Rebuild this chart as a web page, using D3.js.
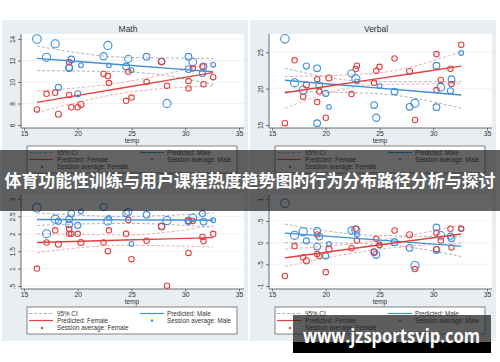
<!DOCTYPE html>
<html>
<head>
<meta charset="utf-8">
<script src="https://cdn.jsdelivr.net/npm/d3@7"></script>
<style>
html, body { margin: 0; padding: 0; background: #fff; }
svg { display: block; font-family: "Liberation Sans", Arial, sans-serif; }
</style>
</head>
<body>
<svg id="chart" width="500" height="362"></svg>
<script>
// session temperatures (shared by every panel)
const temps = [16.2, 17.1, 17.9, 18.2, 19.2, 19.2, 19.4, 20.0, 20.3, 22.4, 22.8, 22.9, 24.5, 24.7, 25.0, 26.4, 27.8, 28.3, 30.3, 30.3, 30.7, 31.6, 31.7, 32.6]
// session sizes, used for marker weight
const maleN = [10, 9, 9, 5, 6, 6, 6, 5, 3, 7, 9, 3, 6, 7, 3, 6, 6, 9, 6, 6, 8, 5, 6, 3]
const femaleN = [4, 4, 4, 5, 4, 4, 4, 4, 5, 4, 4, 4, 4, 4, 4, 4, 5, 4, 4, 4, 4, 4, 4, 4]

const mathMale = [14.0, 12.3, 13.55, 9.5, 11.3, 11.35, 12.1, 8.9, 11.55, 12.4, 13.4, 11.55, 11.45, 12.15, 11.1, 12.35, 11.9, 8.0, 11.2, 12.35, 11.85, 10.8, 11.45, 11.6]
const mathFemale = [7.45, 8.9, 9.0, 7.0, 11.85, 8.8, 7.65, 7.65, 7.9, 10.75, 10.55, 9.9, 8.25, 10.95, 8.55, 10.0, 11.9, 9.65, 9.4, 10.1, 11.25, 11.45, 9.8, 10.45]
const verbalMale = [26.85, 20.8, 19.8, 23.1, 22.8, 15.25, 20.45, 19.35, 17.5, 22.1, 21.35, 21.0, 17.75, 16.0, 20.35, 19.6, 17.5, 18.0, 17.45, 23.15, 20.2, 19.7, 21.3, 24.9]
const verbalFemale = [15.25, 23.9, 18.9, 20.5, 21.3, 18.15, 19.6, 16.0, 21.45, 19.25, 22.7, 23.15, 20.8, 22.45, 23.0, 24.15, 22.35, 15.7, 24.75, 19.8, 21.2, 22.75, 20.65, 26.05]
const thirdMale = [2.75, 2.0, 2.42, 2.36, 2.42, 2.27, 2.58, 2.24, 2.64, 2.77, 2.37, 2.46, 2.59, 2.63, 1.71, 2.55, 2.21, 2.38, 2.37, 2.38, 2.46, 2.58, 2.35, 2.39]
const thirdFemale = [1.0, 1.75, 2.1, 1.7, 2.14, 2.0, 2.0, 2.0, 1.75, 1.75, 1.5, 2.1, 2.0, 2.4, 1.27, 1.8, 2.21, 0.51, 1.45, 2.37, 2.37, 1.91, 1.79, 2.0]
const fourthMale = [0.91, 0.17, 0.25, 0.04, 0.27, -0.09, 0.14, -0.31, -0.03, 0.28, 0.29, 0.19, -0.22, -0.28, -0.07, 0.01, -0.12, -0.53, -0.17, 0.35, 0.17, 0.15, 0.1, 0.32]
const fourthFemale = [-0.77, -0.08, -0.34, -0.42, 0.19, -0.26, -0.31, -0.68, -0.15, -0.13, 0.32, 0.05, -0.21, 0.09, -0.05, 0.28, 0.18, -0.61, 0.23, -0.15, 0.05, 0.32, -0.11, 0.32]

// predicted lines and 95% CI, read at these temps
const fitTemps = [16.2, 24.4, 32.6]
const mathFitMale = [12.2, 11.58, 10.96]
const mathCiMale = [[11.05, 10.95, 9.78], [13.35, 12.3, 12.2]]
const mathFitFemale = [8.11, 9.49, 10.87]
const mathCiFemale = [[7.15, 9.0, 9.63], [9.16, 10.0, 11.83]]
const verbalFitMale = [21.15, 20.14, 19.13]
const verbalCiMale = [[19.6, 19.35, 17.3], [22.8, 20.95, 20.96]]
const verbalFitFemale = [19.44, 21.27, 23.1]
const verbalCiFemale = [[17.3, 20.5, 20.7], [21.65, 22.1, 25.08]]
const thirdFitMale = [2.41, 2.4, 2.39]
const thirdCiMale = [[2.24, 2.3, 2.19], [2.6, 2.5, 2.6]]
const thirdFitFemale = [1.75, 1.82, 1.89]
const thirdCiFemale = [[1.46, 1.67, 1.62], [2.0, 1.97, 2.24]]
const fourthFitMale = [0.22, 0.07, -0.08]
const fourthCiMale = [[0.0, -0.03, -0.32], [0.43, 0.17, 0.14]]
const fourthFitFemale = [-0.35, -0.07, 0.2]
const fourthCiFemale = [[-0.55, -0.17, -0.01], [-0.15, 0.03, 0.41]]

const xTicks = [15, 20, 25, 30, 35]
const mathTicks = [6, 8, 10, 12, 14]
const verbalTicks = [15, 20, 25]
const thirdTicks = [0.5, 1, 1.5, 2, 2.5, 3]
const fourthTicks = [-1, -0.5, 0, 0.5, 1]

const legendLabels = ["95% CI", "Predicted: Male", "Predicted: Female", "Session average: Male", "Session average: Female"]
const bannerText = "体育功能性训练与用户课程热度趋势图的行为分布路径分析与探讨"
const watermarkText = "www.jzsportsvip.com"

const blue = "#3f8fdc"
const red = "#e3413f"

const panels = [
	{ title: "Math", x0: 2, y0: 20, male: mathMale, female: mathFemale, fitM: mathFitMale, fitF: mathFitFemale, ciM: mathCiMale, ciF: mathCiFemale, ticks: mathTicks, domain: [6, 14], top: 19 },
	{ title: "Verbal", x0: 250, y0: 20, male: verbalMale, female: verbalFemale, fitM: verbalFitMale, fitF: verbalFitFemale, ciM: verbalCiMale, ciF: verbalCiFemale, ticks: verbalTicks, domain: [15, 25], top: 32.3 },
	{ title: "", x0: 2, y0: 181, male: thirdMale, female: thirdFemale, fitM: thirdFitMale, fitF: thirdFitFemale, ciM: thirdCiMale, ciF: thirdCiFemale, ticks: thirdTicks, domain: [0.5, 3], top: 18 },
	{ title: "", x0: 250, y0: 181, male: fourthMale, female: fourthFemale, fitM: fourthFitMale, fitF: fourthFitFemale, ciM: fourthCiMale, ciF: fourthCiFemale, ticks: fourthTicks, domain: [-1, 1], top: 18.3 }
]

const svg = d3.select("#chart")
const rScale = d3.scaleSqrt().domain([0, 10]).range([0, 4.3])
const fmt = d => String(d).replace(/^0\./, ".").replace(/^-0\./, "-.")

function drawPanel(p) {
	const g = svg.append("g").attr("transform", `translate(${p.x0},${p.y0})`)

	g.append("rect").attr("width", 246).attr("height", 160).attr("fill", "#e8eef2")
	g.append("rect").attr("x", 19).attr("y", 14).attr("width", 223).attr("height", 94).attr("fill", "#fff")

	const x = d3.scaleLinear().domain([15, 35]).range([22, 237])
	const y = d3.scaleLinear().domain(p.domain).range([105, p.top])

	// gridlines
	g.selectAll(".grid")
		.data(p.ticks)
		.enter().append("line")
		.attr("x1", 19).attr("x2", 242)
		.attr("y1", d => y(d)).attr("y2", d => y(d))
		.attr("stroke", "#eceff1").attr("stroke-width", 0.8)

	// y axis
	const yAxis = g.append("g").attr("transform", "translate(19,0)")
		.call(d3.axisLeft(y).tickValues(p.ticks).tickSize(3).tickFormat(fmt))
	yAxis.select(".domain").remove()
	yAxis.selectAll("line").attr("stroke", "#444").attr("stroke-width", 0.7)
	yAxis.selectAll("text")
		.attr("x", 0).attr("dy", 0)
		.attr("transform", "translate(-6,0) rotate(-90)")
		.attr("text-anchor", "middle")
		.attr("font-size", 6.5).attr("fill", "#333")
		.attr("font-family", "Liberation Sans, Arial, sans-serif")

	// x axis
	const xAxis = g.append("g").attr("transform", "translate(0,108)")
		.call(d3.axisBottom(x).tickValues(xTicks).tickSize(2.5).tickPadding(1))
	xAxis.select(".domain").remove()
	xAxis.selectAll("line").attr("stroke", "#444").attr("stroke-width", 0.7)
	xAxis.selectAll("text").attr("font-size", 6.8).attr("fill", "#333")
		.attr("font-family", "Liberation Sans, Arial, sans-serif")

	g.append("line").attr("x1", 19).attr("x2", 19).attr("y1", 14).attr("y2", 108)
		.attr("stroke", "#444").attr("stroke-width", 0.8)
	g.append("line").attr("x1", 19).attr("x2", 242).attr("y1", 108).attr("y2", 108)
		.attr("stroke", "#444").attr("stroke-width", 0.8)

	g.append("text").attr("x", 130).attr("y", 122.5).attr("text-anchor", "middle")
		.attr("font-size", 6.5).attr("fill", "#333").text("temp")
	if (p.title) {
		g.append("text").attr("x", 126).attr("y", 12).attr("text-anchor", "middle")
			.attr("font-size", 8.5).attr("fill", "#333").text(p.title)
	}

	// confidence bands
	const curve = d3.line().x((d, i) => x(fitTemps[i])).y(d => y(d)).curve(d3.curveMonotoneX)
	p.ciM.forEach(band => {
		g.append("path").attr("d", curve(band)).attr("fill", "none")
			.attr("stroke", "#a9a9a9").attr("stroke-width", 0.9).attr("stroke-dasharray", "3,2")
	})
	p.ciF.forEach(band => {
		g.append("path").attr("d", curve(band)).attr("fill", "none")
			.attr("stroke", "#eca3a3").attr("stroke-width", 0.9).attr("stroke-dasharray", "3,2")
	})

	// session averages
	g.selectAll(".male")
		.data(p.male)
		.enter().append("circle")
		.attr("cx", (d, i) => x(temps[i]))
		.attr("cy", d => y(d))
		.attr("r", (d, i) => rScale(maleN[i]))
		.attr("fill", "none").attr("stroke", blue).attr("stroke-width", 1.1)

	g.selectAll(".female")
		.data(p.female)
		.enter().append("circle")
		.attr("cx", (d, i) => x(temps[i]))
		.attr("cy", d => y(d))
		.attr("r", (d, i) => rScale(femaleN[i]))
		.attr("fill", "none").attr("stroke", red).attr("stroke-width", 1.1)

	// predicted lines
	g.append("path").attr("d", curve(p.fitM)).attr("fill", "none")
		.attr("stroke", blue).attr("stroke-width", 1.4)
	g.append("path").attr("d", curve(p.fitF)).attr("fill", "none")
		.attr("stroke", red).attr("stroke-width", 1.4)

	// legend
	const lg = g.append("g").attr("transform", "translate(25,126)")
	lg.append("rect").attr("width", 210).attr("height", 27)
		.attr("fill", "#fff").attr("stroke", "#666").attr("stroke-width", 0.8)
	const rows = [6.5, 13.5, 21]
	lg.append("line").attr("x1", 2).attr("x2", 26).attr("y1", rows[0]).attr("y2", rows[0])
		.attr("stroke", "#a9a9a9").attr("stroke-dasharray", "3,2").attr("stroke-width", 0.9)
	lg.append("line").attr("x1", 113).attr("x2", 137).attr("y1", rows[0]).attr("y2", rows[0])
		.attr("stroke", blue).attr("stroke-width", 1.2)
	lg.append("line").attr("x1", 2).attr("x2", 26).attr("y1", rows[1]).attr("y2", rows[1])
		.attr("stroke", red).attr("stroke-width", 1.2)
	lg.append("circle").attr("cx", 125).attr("cy", rows[1]).attr("r", 1.2).attr("fill", blue)
	lg.append("circle").attr("cx", 15).attr("cy", rows[2]).attr("r", 1.2).attr("fill", red)
	const spots = [[30, rows[0]], [140, rows[0]], [30, rows[1]], [140, rows[1]], [30, rows[2]]]
	lg.selectAll(".lab")
		.data(legendLabels)
		.enter().append("text")
		.attr("x", (d, i) => spots[i][0])
		.attr("y", (d, i) => spots[i][1] + 2.2)
		.attr("font-size", 6.3).attr("fill", "#333")
		.text(d => d)
}

panels.forEach(drawPanel)

// title banner
svg.append("rect").attr("x", 0).attr("y", 150).attr("width", 500).attr("height", 61)
	.attr("fill", "rgba(25,25,25,0.68)")
svg.append("text").attr("x", 250).attr("y", 187).attr("text-anchor", "middle")
	.attr("font-family", "'Noto Sans CJK SC', sans-serif").attr("font-weight", 700)
	.attr("font-size", 17).attr("fill", "#fff")
	.attr("textLength", 491).attr("lengthAdjust", "spacingAndGlyphs")
	.text(bannerText)

// watermark
svg.append("rect").attr("x", 293).attr("y", 315).attr("width", 198).attr("height", 28)
	.attr("fill", "rgba(30,30,30,0.72)")
svg.append("rect").attr("x", 293).attr("y", 342).attr("width", 198).attr("height", 11)
	.attr("fill", "#000")
svg.append("text").attr("x", 303).attr("y", 343)
	.attr("font-family", "'Open Sans', 'Liberation Sans', sans-serif").attr("font-weight", 700)
	.attr("font-size", 19).attr("fill", "#fff")
	.attr("textLength", 177).attr("lengthAdjust", "spacingAndGlyphs")
	.text(watermarkText)
</script>
</body>
</html>
